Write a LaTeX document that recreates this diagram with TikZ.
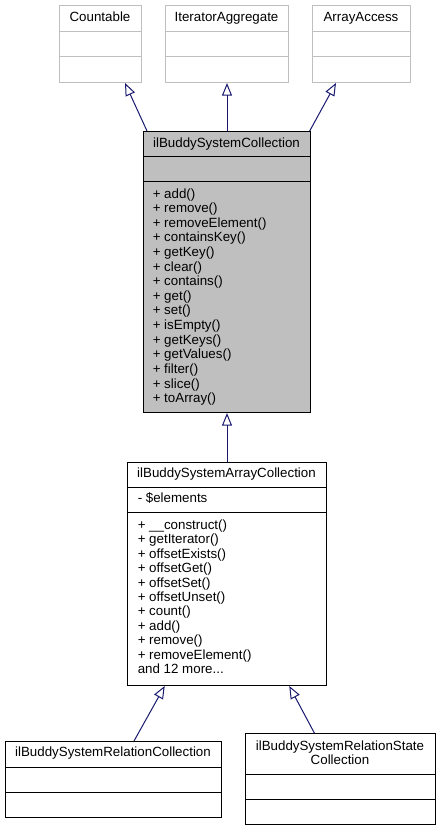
\documentclass[tikz,border=0pt]{standalone}
\usepackage{fontspec}
\setmainfont{Liberation Sans}
\usetikzlibrary{arrows.meta}
\definecolor{edgeblue}{RGB}{25,25,112}
\definecolor{classgray}{RGB}{191,191,191}

\begin{document}
\begin{tikzpicture}[x=0.75pt,y=-0.75pt,
  cls/.style={draw, anchor=north west, inner sep=0pt, line width=0.75pt},
  ext/.style={cls, draw=classgray},
  lbl/.style={anchor=base, inner sep=0pt, font=\fontsize{10}{12}\selectfont},
  mem/.style={anchor=base west, inner sep=0pt, font=\fontsize{10}{12}\selectfont},
  inherit/.style={draw=edgeblue, line width=0.75pt, -{Triangle[open,length=9.5pt,width=7.5pt]}}]
  \useasboundingbox (0,0) rectangle (440,831);

  % interfaces
  \node[ext, minimum width=61.5pt, minimum height=57.75pt] (count) at (59,5) {};
  \node[ext, minimum width=92.25pt, minimum height=57.75pt] (iter) at (165,5) {};
  \node[ext, minimum width=73.5pt, minimum height=57.75pt] (access) at (312,5) {};
  \draw[classgray, line width=0.75pt] (59,31.5) -- (141,31.5) (59,56.5) -- (141,56.5);
  \draw[classgray, line width=0.75pt] (165,31.5) -- (288,31.5) (165,56.5) -- (288,56.5);
  \draw[classgray, line width=0.75pt] (312,31.5) -- (410,31.5) (312,56.5) -- (410,56.5);
  \node[lbl] (countname) at (100,21.5) {Countable};
  \node[lbl] (itername) at (226.5,21.5) {IteratorAggregate};
  \node[lbl] (accessname) at (361,21.5) {ArrayAccess};

  % ilBuddySystemCollection
  \node[cls, fill=classgray, minimum width=125.25pt, minimum height=210.75pt] (coll) at (143,131) {};
  \draw[line width=0.75pt] (143,156.5) -- (310,156.5) (143,181.5) -- (310,181.5);
  \node[lbl] (collname) at (226.5,147) {ilBuddySystemCollection};
  \foreach \m [count=\i] in {add,remove,removeElement,containsKey,getKey,clear,contains,get,set,isEmpty,getKeys,getValues,filter,slice,toArray}
    \node[mem] (cm\i) at (152.5,{198+14.62*(\i-1)}) {+ \m()};

  % ilBuddySystemArrayCollection
  \node[cls, fill=white, minimum width=149.25pt, minimum height=167.6pt] (arr) at (127,461.5) {};
  \draw[line width=0.75pt] (127,487.5) -- (326,487.5) (127,512.5) -- (326,512.5);
  \node[lbl] (arrname) at (226.5,477.5) {ilBuddySystemArrayCollection};
  \node[mem] (aattr) at (137.5,502.7) {- \$elements};
  \foreach \m [count=\i] in {\_\_construct,getIterator,offsetExists,offsetGet,offsetSet,offsetUnset,count,add,remove,removeElement}
    \node[mem] (am\i) at (137.5,{529.5+14.4*(\i-1)}) {+ \m()};
  \node[mem] (amore) at (137.5,{529.5+14.4*10}) {and 12 more...};

  % subclasses
  \node[cls, minimum width=162pt, minimum height=57pt] (rel) at (5,741) {};
  \draw[line width=0.75pt] (5,767) -- (221,767) (5,792) -- (221,792);
  \node[lbl] (relname) at (113,756) {ilBuddySystemRelationCollection};
  \node[cls, minimum width=142.5pt, minimum height=68.25pt] (state) at (245,733) {};
  \draw[line width=0.75pt] (245,774) -- (435,774) (245,799) -- (435,799);
  \node[lbl] (statename) at (340,750) {ilBuddySystemRelationState};
  \node[lbl] (statename2) at (340,764) {Collection};

  % inheritance
  \draw[inherit] ([xshift=3pt]coll.north west) -- ([xshift=49.5pt]count.south west);
  \draw[inherit] (coll.north) -- (iter.south);
  \draw[inherit] ([xshift=-1pt]coll.north east) -- ([xshift=18pt]access.south west);
  \draw[inherit] (arr.north) -- (coll.south);
  \draw[inherit] ([xshift=96.75pt]rel.north west) -- ([xshift=28.3pt]arr.south west);
  \draw[inherit] ([xshift=52pt]state.north west) -- ([xshift=-28.3pt]arr.south east);
\end{tikzpicture}
\end{document}
